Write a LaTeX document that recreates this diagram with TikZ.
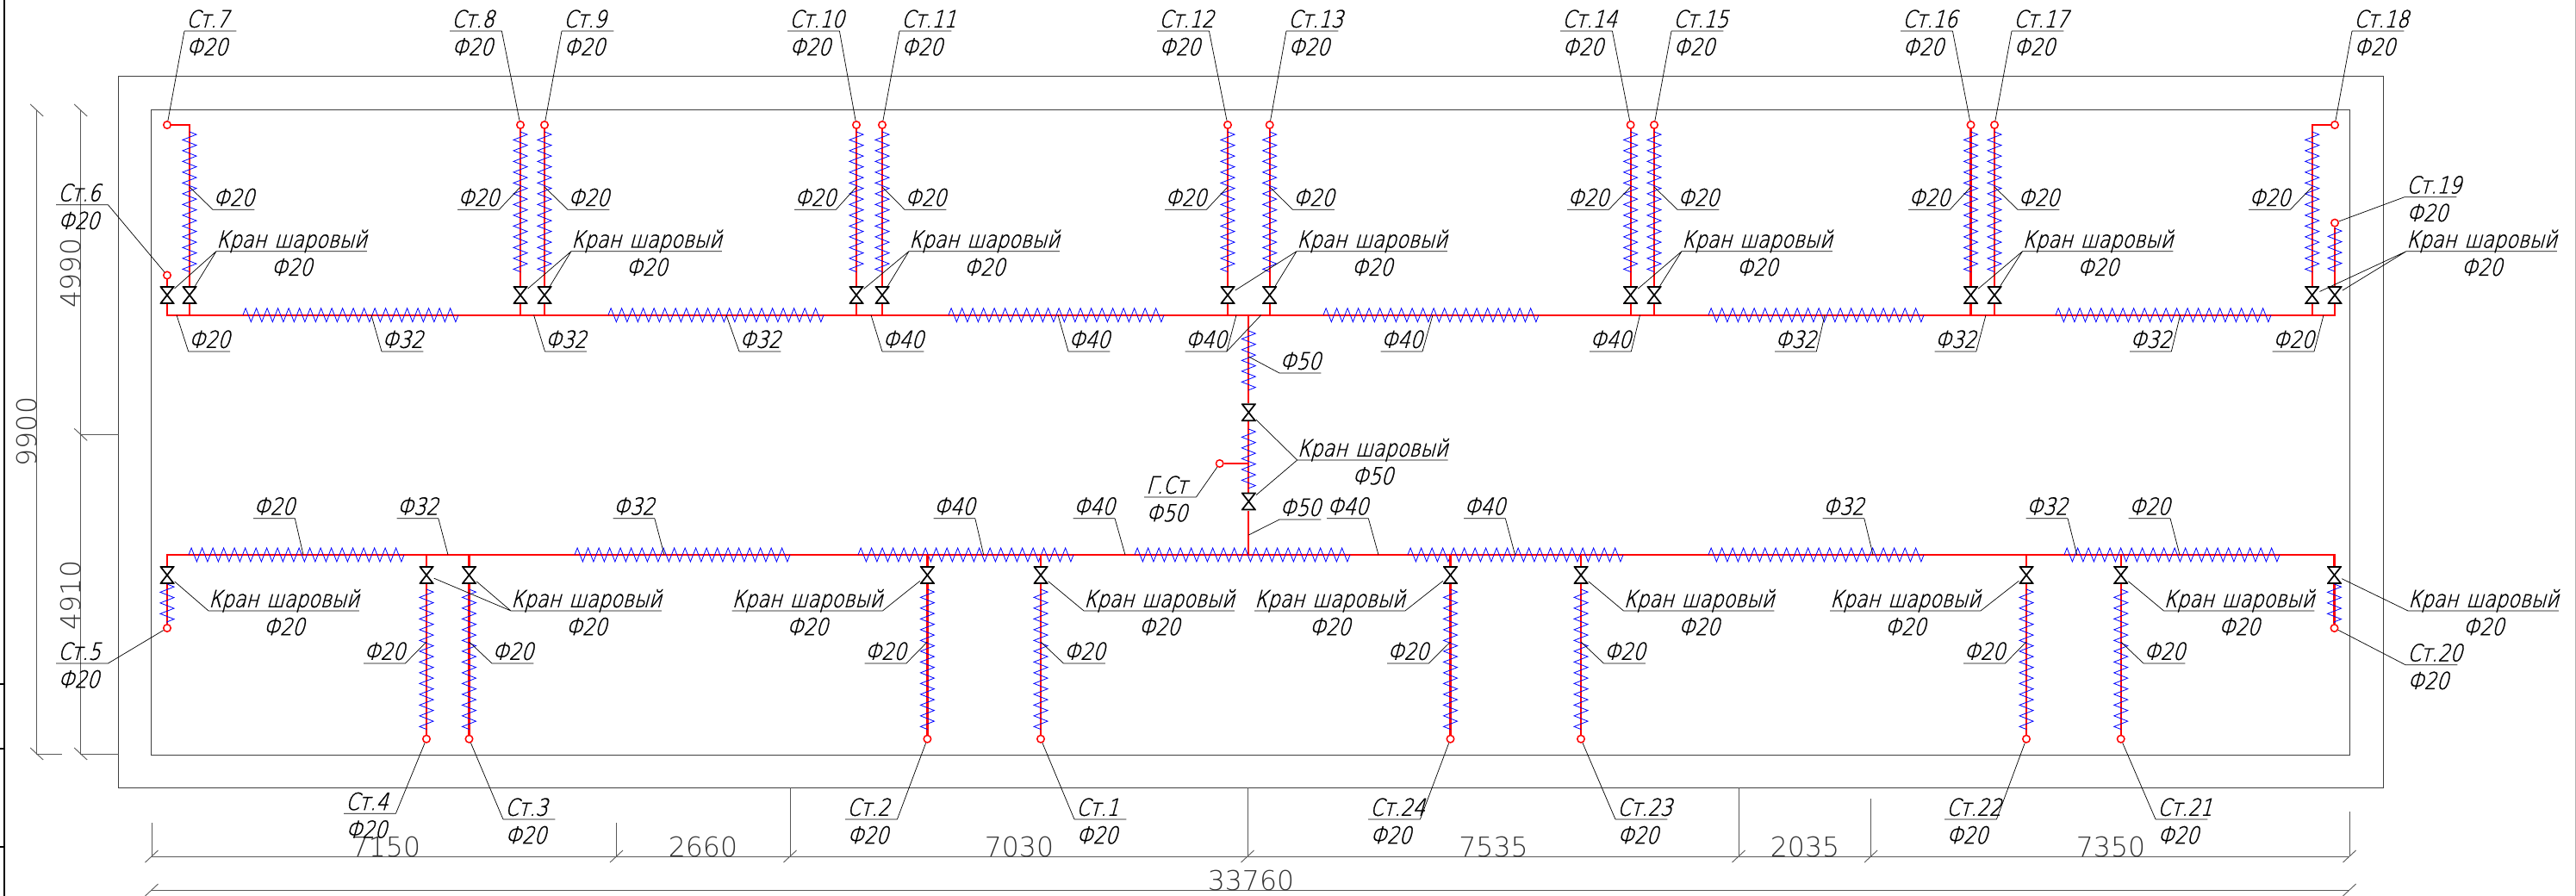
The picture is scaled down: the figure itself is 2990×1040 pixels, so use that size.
\documentclass[tikz,border=0pt]{standalone}
\usepackage{fontspec}
\newfontfamily\gostfont[FakeSlant=0.27,FakeStretch=0.82,FakeBold=1.1]{DejaVu Sans ExtraLight}
\newfontfamily\dimfont{DejaVu Sans ExtraLight}
\usetikzlibrary{positioning,decorations.pathmorphing}

% one-line diameter callout: name, text, x, y, side of the leader, tip x, tip y
\newcommand{\flag}[7]{
    \node[shelf] (f#1) at (#3,#4) {#2};
    \coordinate (tf#1) at (#6,#7);
    \draw[leader] (f#1.south west) -- (f#1.south east) (f#1.south #5) -- (tf#1);
}

\begin{document}
\begin{tikzpicture}[
        x=1pt, y=-1pt,
        wall/.style={draw=black!75, line width=1pt},
        dimline/.style={draw=black!65, line width=0.9pt},
        dimtext/.style={font=\dimfont\fontsize{31.5}{34}\selectfont, text=black!80, inner sep=0pt, anchor=base},
        pipe/.style={draw=red, line width=2.2pt},
        wrap/.style={draw=blue, line width=0.8pt, decorate, decoration={zigzag, segment length=12.5pt, amplitude=8pt}},
        stand/.style={circle, draw=red, fill=white, line width=1.5pt, minimum size=8.5pt, inner sep=0pt},
        valve/.style={rectangle, fill=white, inner sep=0pt, minimum width=17pt, minimum height=21pt,
            path picture={\draw[line width=1.7pt]
                ([shift={(-7.5,-9.5)}]path picture bounding box.center) -- ([shift={(7.5,-9.5)}]path picture bounding box.center)
                -- ([shift={(-7.5,9.5)}]path picture bounding box.center) -- ([shift={(7.5,9.5)}]path picture bounding box.center) -- cycle;}},
        leader/.style={draw=black, line width=0.7pt},
        tag/.style={font=\gostfont\fontsize{27.4}{30}\selectfont, inner sep=0pt, text height=20pt, text depth=0pt},
        shelf/.style={tag, anchor=south west, minimum width=46pt, inner ysep=4pt},
        standtag/.style={tag, anchor=south west, text width=56pt, inner xsep=2pt, inner ysep=4pt, align=left},
        valvetag/.style={tag, anchor=south west, minimum width=174pt, inner ysep=4pt}
    ]
        \useasboundingbox (0,0) rectangle (2990,1040);

        % Sheet frame
        \draw[line width=2.5pt] (5,0) -- (5,1040);
        \foreach \y in {794,869,983}
            \draw[line width=1.5pt] (0,\y) -- (5,\y);
        \draw[draw=black!30, line width=1pt] (2989,0) -- (2989,1040);

        % Walls
        \draw[wall] (137.5,89) rectangle (2766,914);
        \draw[wall] (175.5,127.5) rectangle (2727,876);

        % Dimensions, left
        \draw[dimline] (42.7,128) -- (42.7,875) -- (72,875);
        \draw[dimline] (93.7,128) -- (93.7,875) -- (137.5,875);
        \draw[dimline] (93.7,504.4) -- (137.5,504.4);
        \foreach \x/\y in {42.7/128, 42.7/875, 93.7/128, 93.7/504.4, 93.7/875}
            \draw[dimline] (\x-7.5,\y-7) -- (\x+7.5,\y+7);
        \node[dimtext, rotate=90] (d9900) at (42.7,501) {9900};
        \node[dimtext, rotate=90] (d4990) at (93.7,317) {4990};
        \node[dimtext, rotate=90] (d4910) at (93.7,691) {4910};

        % Dimensions, bottom
        \draw[dimline] (176,994) -- (2727,994);
        \draw[dimline] (176,1033) -- (2727,1033);
        \foreach \x/\y in {176/955, 715.5/955, 917/914, 1448/914, 2018/914, 2171.6/927, 2727/942}{
            \draw[dimline] (\x,\y) -- (\x,994);
            \draw[dimline] (\x-7.5,1001) -- (\x+7.5,987);
        }
        \foreach \x in {176,2727}
            \draw[dimline] (\x-7.5,1040) -- (\x+7.5,1026);
        \node[dimtext] (d7150) at (448,994) {7150};
        \node[dimtext] (d2660) at (816,994) {2660};
        \node[dimtext] (d7030) at (1183,994) {7030};
        \node[dimtext] (d7535) at (1733.5,994) {7535};
        \node[dimtext] (d2035) at (2095,994) {2035};
        \node[dimtext] (d7350) at (2450,994) {7350};
        \node[dimtext] (d33760) at (1452,1033) {33760};

        % Mains
        \coordinate (upper) at (0,365.7);
        \coordinate (lower) at (0,644);
        \node[stand] (c6) at (194,319.5) {};
        \node[stand] (c7) at (194,145) {};
        \node[stand] (c18) at (2710,145) {};
        \node[stand] (c19) at (2710,258.7) {};
        \node[stand] (c5) at (194,729) {};
        \node[stand] (c20) at (2709.5,729) {};
        \node[stand] (cg) at (1415.7,538) {};
        \draw[pipe] (c6) -- (c6 |- upper) -- (c19 |- upper) -- (c19);
        \draw[pipe] (c5) -- (c5 |- lower) -- (c20 |- lower) -- (c20);
        \draw[pipe] (1449.3,365.7) -- (1449.3,644);
        \draw[pipe] (cg) -- (1449.3,538);
        \draw[pipe] (c7) -| (220,365.7);
        \draw[pipe] (c18) -| (2683.7,365.7);

        % Wrapped lengths of the mains
        \foreach \a in {282,706,1101,1536,1983,2386}
            \draw[wrap] (\a,365.7) -- (\a+250.1,365.7);
        \foreach \a in {219,667,996,1317,1634,1983,2396}
            \draw[wrap] (\a,644) -- (\a+250.1,644);
        \draw[wrap] (1449.3,384) -- (1449.3,453);
        \draw[wrap] (1449.3,498) -- (1449.3,567);

        % Upper risers
        \foreach \n/\x in {8/604, 9/632, 10/994, 11/1024, 12/1425, 13/1473.7, 14/1892.6, 15/1920, 16/2287.5, 17/2315}{
            \node[stand] (c\n) at (\x,145) {};
            \draw[pipe] (c\n) -- (\x,365.7);
        }
        \foreach \n/\x in {7/220, 8/604, 9/632, 10/994, 11/1024, 12/1425, 13/1473.7, 14/1892.6, 15/1920, 16/2287.5, 17/2315, 18/2683.7}{
            \draw[wrap] (\x,153) -- (\x,315.6);
            \node[valve] (v\n) at (\x,342.5) {};
        }
        \draw[wrap] (2710,265) -- (2710,315);
        \node[valve] (v6) at (194,342.5) {};
        \node[valve] (v19) at (2710,342.5) {};

        % Lower risers
        \foreach \n/\x in {1/1208, 2/1076.4, 3/544.5, 4/495, 24/1683.5, 23/1835, 22/2352, 21/2461.7}{
            \node[stand] (c\n) at (\x,857.7) {};
            \draw[pipe] (c\n) -- (\x,644);
            \draw[wrap] (\x,684) -- (\x,846.6);
            \node[valve] (v\n) at (\x,667.5) {};
        }
        \draw[wrap] (194,678) -- (194,723);
        \draw[wrap] (2709.5,678) -- (2709.5,723);
        \node[valve] (v5) at (194,667.5) {};
        \node[valve] (v20) at (2709.5,667.5) {};

        % Main valves
        \node[valve] (vm1) at (1449.3,478.7) {};
        \node[valve] (vm2) at (1449.3,582) {};

        % Stand callouts
        \foreach \n/\x/\y/\sd in {7/214/36/west, 8/522/36/east, 9/652/36/west, 10/914/36/east, 11/1044/36/west,
                12/1343/36/east, 13/1493/36/west, 14/1811/36/east, 15/1940/36/west, 16/2206/36/east, 17/2335/36/west,
                18/2730/36/west, 19/2791/228.7/west, 6/65/237.7/east, 5/65/770/east, 20/2792/771.7/west,
                4/399/944.3/east, 3/584/951/west, 2/981/951/east, 1/1247/951/west,
                24/1588/951/east, 23/1875/951/west, 22/2257/951/east, 21/2502/951/west}{
            \node[standtag] (st\n) at (\x,\y) {Ст.\n};
            \node[tag, below right=8pt and 2pt of st\n.south west] (sd\n) {Ф20};
            \draw[leader] (st\n.south west) -- (st\n.south east) (st\n.south \sd) -- (c\n);
        }
        \node[standtag] (stg) at (1328,577) {Г.Ст};
        \node[tag, below right=8pt and 2pt of stg.south west] (sdg) {Ф50};
        \draw[leader] (stg.south west) -- (stg.south east) (stg.south east) -- (cg);

        % Valve callouts, two valves
        \foreach \n/\x/\y/\sd/\va/\vb/\t in {a/251/291.7/west/6/7/20, b/663/291.7/west/8/9/20, c/1055/291.7/west/10/11/20,
                d/1505/291.7/west/12/13/20, e/1952/291.7/west/14/15/20, f/2347.5/291.7/west/16/17/20,
                g/2793/291.7/west/18/19/20, h/593/709/west/4/3/20, m/1505.7/534/west/m1/m2/50}{
            \node[valvetag] (k\n) at (\x,\y) {Кран\hspace{2pt} шаровый};
            \node[tag, below=8pt of k\n.south] (kd\n) {Ф\t};
            \draw[leader] (k\n.south west) -- (k\n.south east) (k\n.south \sd) -- (v\va) (k\n.south \sd) -- (v\vb);
        }

        % Valve callouts, one valve
        \foreach \n/\x/\sd in {5/242/west, 2/849.5/east, 1/1258/west, 24/1456/east, 23/1884.5/west, 22/2124/east, 21/2511.5/west, 20/2795/west}{
            \node[valvetag] (k\n) at (\x,709) {Кран\hspace{2pt} шаровый};
            \node[tag, below=8pt of k\n.south] (kd\n) {Ф20};
            \draw[leader] (k\n.south west) -- (k\n.south east) (k\n.south \sd) -- (v\n);
        }

        % Diameter callouts, upper risers
        \foreach \n/\x/\sd/\tip in {7/247/west/220, 8/531/east/604, 9/659/west/632, 10/922/east/994, 11/1050/west/1024,
                12/1352/east/1425, 13/1500.5/west/1473.7, 14/1819/east/1892.6, 15/1947/west/1920,
                16/2215/east/2287.5, 17/2342/west/2315, 18/2610/east/2683.7}{
            \flag{r\n}{Ф20}{\x}{243.3}{\sd}{\tip}{217}
        }

        % Diameter callouts, upper main
        \foreach \n/\t/\x/\sd/\tip in {1/20/218.7/west/205, 2/32/443/west/431, 3/32/632.5/west/619.6, 4/32/858/west/843,
                5/40/1024/west/1011, 6/40/1240/west/1228, 7/40/1602.7/east/1663, 8/40/1845/east/1903.5,
                9/32/2060/east/2118, 10/32/2245.5/east/2305, 11/32/2472/east/2530.6, 12/20/2637.7/east/2697}{
            \flag{u\n}{Ф\t}{\x}{408}{\sd}{\tip}{365.7}
        }
        \flag{u13}{Ф40}{1375.5}{408}{east}{1435}{365.7}
        \coordinate (tu14) at (1463.7,365.7);
        \draw[leader] (fu13.south east) -- (tu14);

        % Diameter callouts, main riser
        \flag{m1}{Ф50}{1485}{433}{west}{1449.3}{414}
        \flag{m2}{Ф50}{1485}{603}{west}{1449.3}{621}

        % Diameter callouts, lower main
        \foreach \n/\t/\x/\sd/\tip in {1/20/294/east/352, 2/32/460.5/east/520, 3/32/711.5/east/771, 4/40/1083.5/east/1141.7,
                5/40/1245.7/east/1306, 6/40/1540/east/1600, 7/40/1699/east/1758.5, 8/32/2115.5/east/2174,
                9/32/2351.7/east/2410.7, 10/20/2470.7/east/2530}{
            \flag{l\n}{Ф\t}{\x}{601.7}{\sd}{\tip}{644}
        }

        % Diameter callouts, lower risers
        \foreach \n/\x/\sd/\tip in {4/422/east/495, 3/571/west/544.5, 2/1003.5/east/1076.4, 1/1234.5/west/1208,
                24/1610/east/1683.5, 23/1861.5/west/1835, 22/2279/east/2352, 21/2488/west/2461.7}{
            \flag{b\n}{Ф20}{\x}{770}{\sd}{\tip}{745}
        }
    \end{tikzpicture}
\end{document}
